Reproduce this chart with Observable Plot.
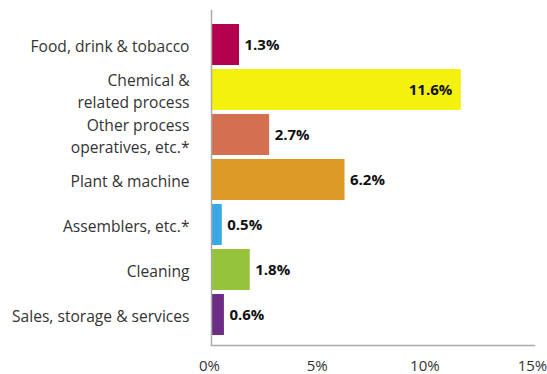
<!DOCTYPE html>
<html>
<head>
<meta charset="utf-8">
<script src="https://cdn.jsdelivr.net/npm/d3@7"></script>
<script src="https://cdn.jsdelivr.net/npm/@observablehq/plot@0.6"></script>
<style>
  html, body { margin: 0; padding: 0; background: #fff; }
  svg { display: block; }
</style>
</head>
<body>
<div id="chart"></div>
<script>
const categories = [
  "Food, drink & tobacco",
  "Chemical &\nrelated process",
  "Other process\noperatives, etc.*",
  "Plant & machine",
  "Assemblers, etc.*",
  "Cleaning",
  "Sales, storage & services"
];
const values = [1.3, 11.6, 2.7, 6.2, 0.5, 1.8, 0.6];
const colors = ["#b3004f", "#f5f10f", "#d3704f", "#db9a26", "#38a8e6", "#95c33b", "#6d2d85"];
const xTicks = [0, 5, 10, 15];

const data = categories.map((c, i) => ({category: c, value: values[i], color: colors[i]}));
const insideThreshold = 10;

const chart = Plot.plot({
  width: 547,
  height: 374,
  marginLeft: 211,
  marginRight: 13,
  marginTop: 10,
  marginBottom: 29,
  style: {fontFamily: "'Open Sans', sans-serif", background: "#fff"},
  x: {domain: [0, 15], ticks: xTicks, tickFormat: d => d + "%"},
  y: {domain: categories, range: [17, 343], padding: 0.087},
  marks: [
    Plot.barX(data, {y: "category", x: "value", fill: "color"}),
    Plot.ruleX([0], {stroke: "#aaa", strokeWidth: 1.5}),
    Plot.frame({anchor: "bottom", stroke: "#aaa", strokeWidth: 1.5}),
    Plot.axisX({ticks: xTicks, tickFormat: d => d + "%", tickSize: 0, tickPadding: 15, dx: -2, fontSize: 15, fill: "#333", label: null}),
    Plot.axisY({tickSize: 0, tickPadding: 22, fontSize: 15.6, fill: "#333", lineHeight: 1.38, label: null}),
    Plot.text(data.filter(d => d.value < insideThreshold), {
      y: "category", x: "value", text: d => d.value.toFixed(1) + "%",
      textAnchor: "start", dx: 5, fontSize: 15, fontWeight: "bold", fill: "#111"
    }),
    Plot.text(data.filter(d => d.value >= insideThreshold), {
      y: "category", x: "value", text: d => d.value.toFixed(1) + "%",
      textAnchor: "end", dx: -9, fontSize: 15, fontWeight: "bold", fill: "#111"
    })
  ]
});
document.getElementById("chart").appendChild(chart);
</script>
</body>
</html>
